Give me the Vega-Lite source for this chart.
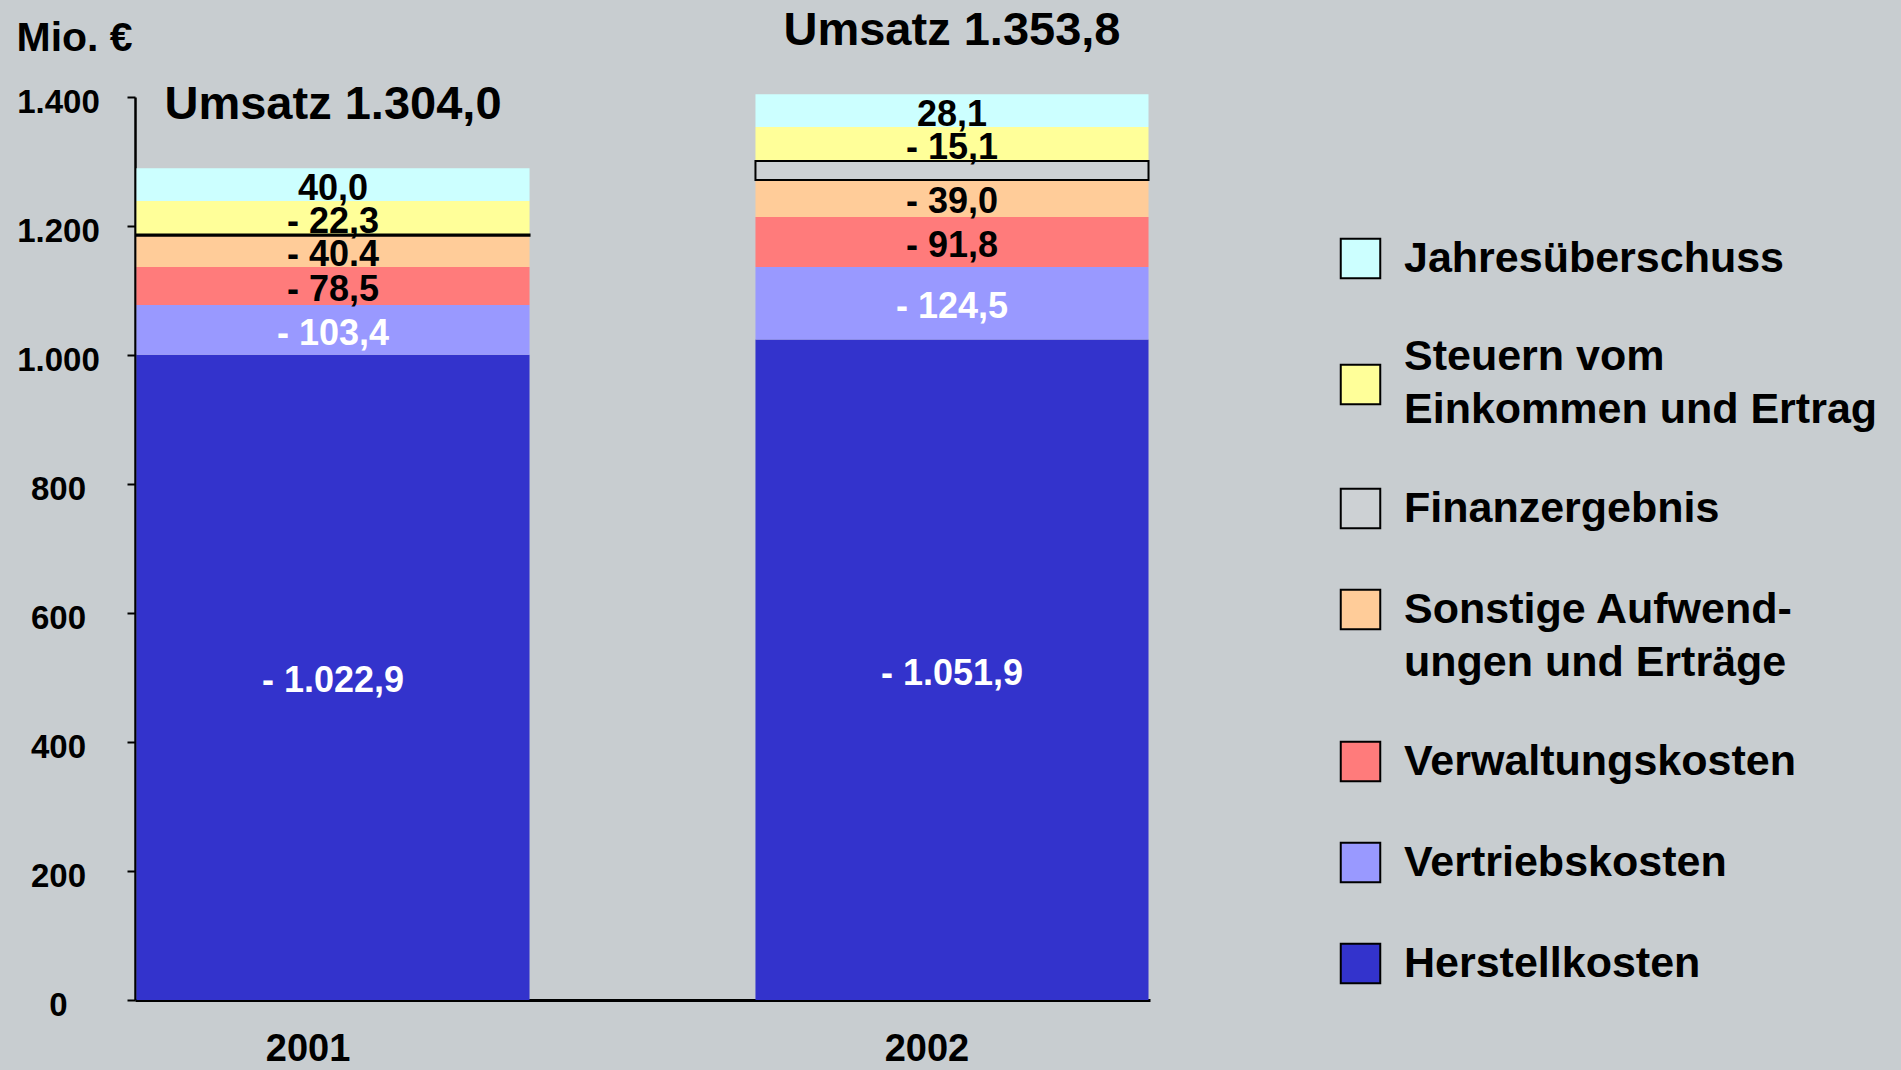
{
  "$schema": "https://vega.github.io/schema/vega-lite/v6.json",
  "width": 1015,
  "height": 903,
  "autosize": {"type": "none"},
  "padding": {"left": 135, "top": 97, "right": 751, "bottom": 70},
  "background": "#c8cdd0",
  "config": {
    "view": {"stroke": null},
    "font": "Liberation Sans",
    "locale": {"number": {"decimal": ",", "thousands": ".", "grouping": [3], "currency": ["", " €"]}}
  },
  "datasets": {
    "segments": [
      {"year": "2001", "cat": "Herstellkosten", "ord": 1, "v": 1000.2, "label": "- 1.022,9"},
      {"year": "2001", "cat": "Vertriebskosten", "ord": 2, "v": 77.4, "label": "- 103,4"},
      {"year": "2001", "cat": "Verwaltungskosten", "ord": 3, "v": 58.9, "label": "- 78,5"},
      {"year": "2001", "cat": "Sonstige Aufwendungen und Erträge", "ord": 4, "v": 48.5, "label": "- 40.4"},
      {"year": "2001", "cat": "Steuern vom Einkommen und Ertrag", "ord": 6, "v": 51.8, "label": "- 22,3"},
      {"year": "2001", "cat": "Jahresüberschuss", "ord": 7, "v": 50.6, "label": "40,0"},
      {"year": "2002", "cat": "Herstellkosten", "ord": 1, "v": 1024.2, "label": "- 1.051,9"},
      {"year": "2002", "cat": "Vertriebskosten", "ord": 2, "v": 112.3, "label": "- 124,5"},
      {"year": "2002", "cat": "Verwaltungskosten", "ord": 3, "v": 77.5, "label": "- 91,8"},
      {"year": "2002", "cat": "Sonstige Aufwendungen und Erträge", "ord": 4, "v": 57.3, "label": "- 39,0"},
      {"year": "2002", "cat": "Steuern vom Einkommen und Ertrag", "ord": 6, "v": 52.6, "label": "- 15,1"},
      {"year": "2002", "cat": "Jahresüberschuss", "ord": 7, "v": 50.7, "label": "28,1"},
      {"year": "2001", "cat": "Finanzergebnis", "ord": 5, "v": 2.0, "label": ""},
      {"year": "2002", "cat": "Finanzergebnis", "ord": 5, "v": 29.5, "label": ""}
    ],
    "umsatz": [
      {"year": "2001", "umsatz": 1304.0, "label": "Umsatz 1.304,0", "top": 1289.4},
      {"year": "2002", "umsatz": 1353.8, "label": "Umsatz 1.353,8", "top": 1404.1}
    ]
  },
  "layer": [
    {
      "data": {"name": "segments"},
      "mark": {"type": "bar", "stroke": "black"},
      "encoding": {
        "x": {
          "field": "year", "type": "nominal",
          "scale": {"paddingInner": 0.365, "paddingOuter": 0.0024},
          "axis": {
            "title": null, "labelAngle": 0, "labelFontSize": 38, "labelFontWeight": "bold",
            "labelColor": "black", "labelPadding": 30, "labelOffset": -25, "ticks": false,
            "domainColor": "black", "domainWidth": 3, "grid": false
          }
        },
        "y": {
          "field": "v", "type": "quantitative", "stack": "zero",
          "scale": {"domain": [0, 1400], "nice": false},
          "axis": {
            "title": "Mio. €", "titleAngle": 0, "titleAlign": "left", "titleBaseline": "middle",
            "titleX": -119, "titleY": -59, "titleFontSize": 41, "titleFontWeight": "bold", "titleColor": "black",
            "values": [0, 200, 400, 600, 800, 1000, 1200, 1400], "format": ",d",
            "labelFontSize": 33, "labelFontWeight": "bold", "labelColor": "black",
            "labelAlign": "center", "labelBaseline": "middle", "labelPadding": 69, "labelOffset": 5,
            "labelFlush": false, "labelOverlap": false, "labelBound": false,
            "tickSize": 8, "tickWidth": 2, "tickColor": "black",
            "domainColor": "black", "domainWidth": 2.5, "grid": false
          }
        },
        "color": {
          "field": "cat", "type": "nominal",
          "scale": {
            "domain": ["Jahresüberschuss", "Steuern vom Einkommen und Ertrag", "Finanzergebnis", "Sonstige Aufwendungen und Erträge", "Verwaltungskosten", "Vertriebskosten", "Herstellkosten"],
            "range": ["#CCFFFF", "#FFFF99", "#CDD1D4", "#FFCC99", "#FF7B7B", "#9999FF", "#3333CC"]
          },
          "legend": {
            "title": null, "orient": "none", "legendX": 1204, "legendY": 140, "direction": "vertical",
            "symbolType": "square", "symbolSize": 1560, "symbolStrokeColor": "black", "symbolStrokeWidth": 2,
            "labelFontSize": 43, "labelFontWeight": "bold", "labelColor": "black", "labelFont": "Liberation Sans",
            "labelOffset": 22, "labelLimit": 700, "rowPadding": 52, "padding": 0,
            "labelExpr": "datum.label == 'Steuern vom Einkommen und Ertrag' ? ['Steuern vom', 'Einkommen und Ertrag'] : datum.label == 'Sonstige Aufwendungen und Erträge' ? ['Sonstige Aufwend-', 'ungen und Erträge'] : datum.label",
            "encode": {"labels": {"update": {"lineHeight": {"value": 53}, "dy": {"signal": "datum.value == 'Steuern vom Einkommen und Ertrag' ? -28 : 0"}}}}
          }
        },
        "order": {"field": "ord", "type": "quantitative"},
        "strokeWidth": {"condition": {"test": "datum.cat === 'Finanzergebnis'", "value": 2}, "value": 0}
      }
    },
    {
      "data": {"name": "segments"},
      "mark": {"type": "text", "fontSize": 36, "fontWeight": "bold", "baseline": "middle", "dy": 4},
      "encoding": {
        "x": {"field": "year", "type": "nominal"},
        "y": {"field": "v", "type": "quantitative", "stack": "zero", "bandPosition": 0.5},
        "detail": {"field": "cat", "type": "nominal"},
        "order": {"field": "ord", "type": "quantitative"},
        "text": {"field": "label", "type": "nominal"},
        "color": {
          "condition": {"test": "datum.cat === 'Vertriebskosten' || datum.cat === 'Herstellkosten'", "value": "white"},
          "value": "black"
        }
      }
    },
    {
      "data": {"name": "umsatz"},
      "mark": {"type": "text", "fontSize": 47, "fontWeight": "bold", "baseline": "middle", "dy": -63, "color": "black"},
      "encoding": {
        "x": {"field": "year", "type": "nominal"},
        "y": {"field": "top", "type": "quantitative"},
        "text": {"field": "label", "type": "nominal"}
      }
    }
  ]
}
